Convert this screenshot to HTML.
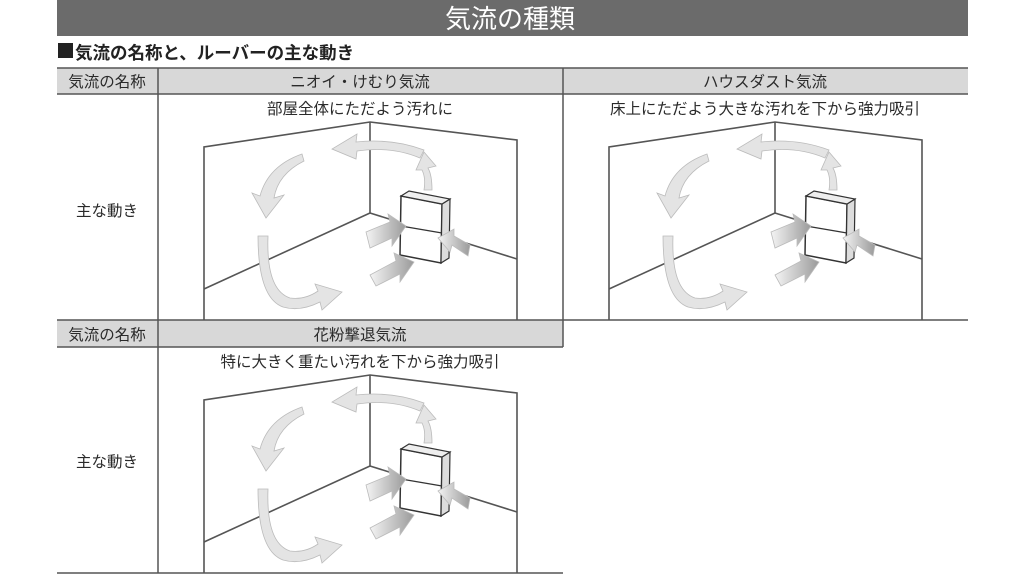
<!DOCTYPE html>
<html><head><meta charset="utf-8"><style>
body{margin:0;width:1024px;height:576px;background:#fff;overflow:hidden;font-family:"Liberation Sans","Noto Sans CJK JP",sans-serif;}
svg{position:absolute;left:0;top:0}
text{font-family:"Liberation Sans","Noto Sans CJK JP",sans-serif;fill:#2a2a2a}
</style></head><body>
<svg width="1024" height="576" viewBox="0 0 1024 576">
<defs>
<linearGradient id="ag" x1="0" y1="0" x2="1" y2="0"><stop offset="0" stop-color="#f4f4f4"/><stop offset="1" stop-color="#9a9a9a"/></linearGradient>
<g id="room">
 <g fill="none" stroke="#555" stroke-width="1.6">
  <polyline points="204,320 204,147 370,122 517,140 517,320"/>
  <line x1="370" y1="122" x2="370" y2="213"/>
  <line x1="204" y1="289" x2="370" y2="213"/>
  <line x1="370" y1="213" x2="517" y2="259"/>
 </g>
 <polygon points="401,196 442,204 441,263 400,255" fill="#fff" stroke="#333" stroke-width="1.5"/>
 <polygon points="442,204 450,199 449,258 441,263" fill="#ddd" stroke="#333" stroke-width="1.2"/>
 <polygon points="401,196 409,191 450,199 442,204" fill="#eee" stroke="#333" stroke-width="1.2"/>
 <line x1="401" y1="226" x2="442" y2="233" stroke="#333" stroke-width="1.2"/>
 <g fill="url(#ag)" stroke="#bbb" stroke-width="0.8">
  <path d="M366,232 L390,222 L388,214 L406,226 L392,246 L392,238 L370,248 Z"/>
  <path d="M370,275 L396,261 L394,253 L414,262 L400,282 L400,274 L376,286 Z"/>
  <path d="M470,245 L454,236 L454,229 L438,238 L450,252 L452,245 L468,256 Z"/>
 </g>
 <g fill="#e4e4e4" stroke="#bbb" stroke-width="0.8">
  <path d="M260,196 Q268,166 302,154 L304,161 Q278,174 274,198 L284,195 L266,218 L252,193 Z"/>
  <path d="M424,150 Q392,138 356,142 L357,134 L332,149 L356,159 L357,151 Q392,146 420,158 Z"/>
  <path d="M432,190 Q432,175 428,168 L436,166 L424,152 L416,170 L422,170 Q426,178 424,190 Z"/>
  <path d="M258,236 L268,236 Q266,290 290,298 Q305,300 318,291 L315,284 L342,292 L322,310 L320,302 Q300,312 283,307 Q258,298 258,236 Z"/>
 </g>
</g>
</defs>
<rect x="57" y="0" width="911" height="36" fill="#6b6b6b"/>
<text x="575" y="28" font-size="26" style="fill:#fff" text-anchor="end">気流の種類</text>
<rect x="58" y="43" width="15" height="15" fill="#222"/>
<text x="75" y="59" font-size="17.5" font-weight="bold" style="fill:#222">気流の名称と、ルーバーの主な動き</text>
<rect x="57" y="68" width="911" height="26" fill="#d8d8d8"/>
<rect x="57" y="320" width="506" height="27" fill="#d8d8d8"/>
<g stroke="#555" stroke-width="1.5">
 <line x1="57" y1="68" x2="968" y2="68"/>
 <line x1="57" y1="94" x2="968" y2="94"/>
 <line x1="57" y1="320" x2="968" y2="320"/>
 <line x1="57" y1="347" x2="563" y2="347"/>
 <line x1="57" y1="573" x2="563" y2="573"/>
 <line x1="158" y1="68" x2="158" y2="573"/>
 <line x1="563" y1="68" x2="563" y2="347"/>
</g>
<g font-size="15.5" text-anchor="middle">
 <text x="107" y="87">気流の名称</text>
 <text x="360" y="87">ニオイ・けむり気流</text>
 <text x="765" y="87">ハウスダスト気流</text>
 <text x="360" y="114">部屋全体にただよう汚れに</text>
 <text x="765" y="114">床上にただよう大きな汚れを下から強力吸引</text>
 <text x="107" y="216">主な動き</text>
 <text x="107" y="340">気流の名称</text>
 <text x="360" y="340">花粉撃退気流</text>
 <text x="360" y="367">特に大きく重たい汚れを下から強力吸引</text>
 <text x="107" y="467">主な動き</text>
</g>
<use href="#room"/>
<use href="#room" transform="translate(405,0)"/>
<use href="#room" transform="translate(0,253)"/>
</svg>
</body></html>
